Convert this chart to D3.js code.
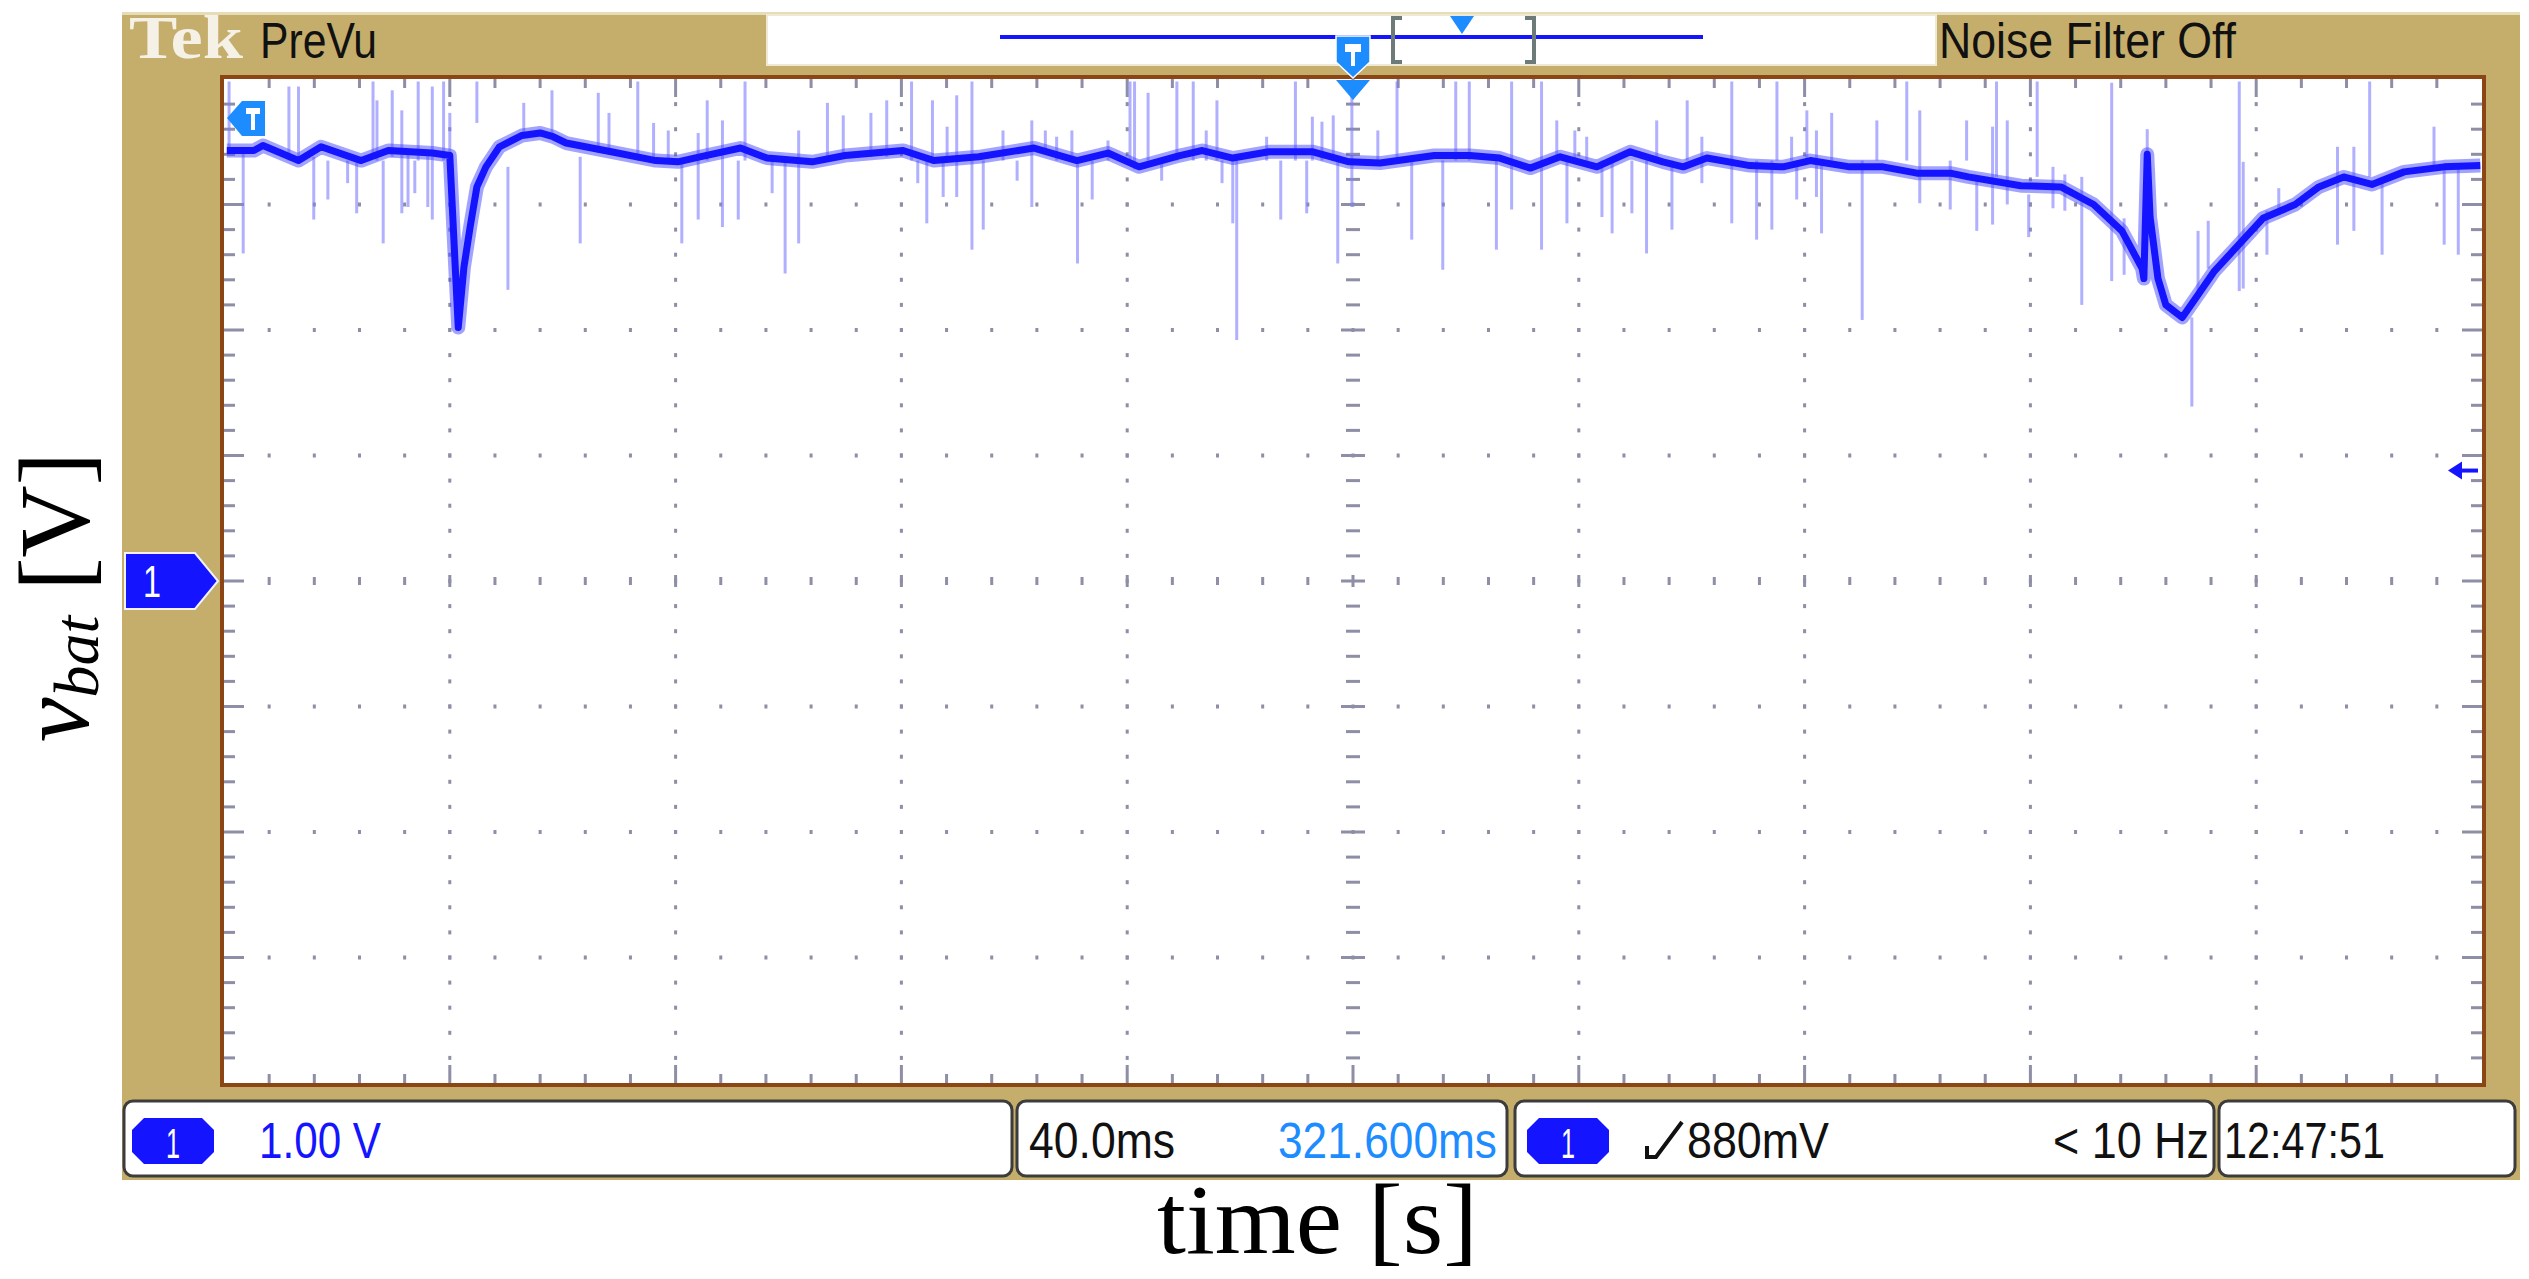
<!DOCTYPE html>
<html><head><meta charset="utf-8">
<script src="https://cdn.jsdelivr.net/npm/d3@7"></script>
<style>html,body{margin:0;padding:0;background:#fff;}svg{display:block;}</style>
</head><body>
<svg id="c" width="2529" height="1279"></svg>
<script>
// ---------------- data ----------------
// time in ms (0..400 across the screen, 40 ms/div), voltage in V (1 V/div, ground at centre)
const traceT = [0.5,5.3,6.9,13.2,17.2,24.3,29.1,36.9,40.0,40.9,41.5,42.5,43.6,44.8,46.4,48.8,52.8,56.0,58.3,60.6,68.6,76.5,80.4,84.3,91.5,96.2,104.2,110.0,120.3,125.8,133.7,143.5,151.1,156.6,162.1,169.3,173.3,178.7,185.1,192.9,199.3,204.8,214.4,220.7,226.0,231.4,236.7,243.2,249.1,254.9,258.5,262.7,270.3,276.2,281.0,288.0,293.9,299.9,305.8,309.0,318.3,325.4,331.2,336.2,339.8,340.1,340.7,341.2,342.6,344.0,346.9,349.7,352.6,356.3,361.2,366.9,371.1,375.5,380.5,386.2,393.3,399.7];
const traceV = [3.43,3.43,3.47,3.35,3.46,3.35,3.43,3.41,3.39,2.56,2.02,2.50,2.82,3.14,3.30,3.46,3.55,3.57,3.54,3.49,3.42,3.35,3.34,3.38,3.45,3.37,3.34,3.39,3.43,3.35,3.38,3.45,3.35,3.41,3.30,3.39,3.43,3.37,3.42,3.42,3.34,3.33,3.39,3.39,3.37,3.29,3.38,3.30,3.42,3.34,3.30,3.37,3.31,3.30,3.35,3.30,3.30,3.25,3.25,3.22,3.15,3.14,3.00,2.79,2.49,2.41,3.40,2.90,2.41,2.20,2.10,2.28,2.47,2.65,2.89,3.00,3.14,3.22,3.16,3.26,3.30,3.31];

// glitch spikes: time, low and high voltage
const spikeT  = [0.9,3.4,11.5,13.2,15.9,18.4,21.9,23.5,26.4,27.1,28.2,29.8,31.5,32.6,33.8,34.4,36.1,36.9,38.9,40.0,44.8,50.3,53.1,58.1,63.1,66.3,68.2,73.3,76.1,78.7,81.1,84.0,85.6,88.3,91.1,92.3,97.1,99.4,101.8,106.9,109.7,114.6,117.4,121.8,122.9,124.5,125.5,127.4,128.1,129.8,132.5,134.5,138.0,140.5,143.1,145.5,147.5,150.2,151.2,153.8,156.6,160.5,161.3,163.7,166.1,168.8,171.7,174.0,175.9,176.8,178.7,179.4,184.7,187.2,189.8,191.8,192.8,194.5,196.5,197.3,199.8,204.4,207.8,210.4,215.9,218.2,220.6,225.4,228.1,233.4,236.1,237.9,239.3,241.4,244.1,245.9,249.4,252.0,253.8,256.5,259.2,261.8,267.1,271.5,274.2,275.1,277.7,278.6,280.4,282.1,283.0,284.8,290.2,292.8,298.1,300.4,305.8,308.7,310.5,313.3,314.0,315.9,319.7,321.2,324.0,326.1,329.1,334.4,336.6,340.7,348.6,349.7,351.5,357.0,357.7,361.9,364.0,374.4,377.3,380.1,382.3,391.5,393.3,395.8];
const spikeLo = [3.41,2.61,3.35,3.38,2.88,3.04,3.17,2.93,3.41,3.35,2.69,3.38,2.93,2.98,3.09,3.35,2.98,2.88,3.35,3.09,3.65,2.32,3.54,3.54,2.69,3.41,3.41,3.35,3.35,3.35,2.69,2.88,3.35,2.82,2.88,3.35,3.09,2.45,2.69,3.38,3.38,3.38,3.38,3.35,3.17,2.85,3.35,3.06,3.35,3.06,2.64,2.80,3.35,3.19,2.98,3.41,3.35,3.35,2.53,3.04,3.35,3.35,3.28,3.35,3.19,3.35,3.35,3.35,3.35,3.17,2.85,1.92,3.35,2.88,3.35,2.93,3.35,3.35,3.35,2.53,2.98,3.35,3.35,2.72,2.48,3.35,3.35,2.64,2.96,2.64,3.35,2.85,3.35,3.35,2.90,2.77,2.93,2.61,3.35,2.80,3.35,3.17,2.85,2.72,2.80,3.35,3.35,3.04,3.35,3.06,2.77,3.35,2.08,3.35,3.35,3.01,2.96,3.35,2.79,2.84,3.22,3.00,2.74,3.22,2.97,2.95,2.20,2.39,2.44,2.90,1.39,2.28,2.49,2.31,2.33,2.60,2.92,2.68,2.79,3.22,2.60,3.27,2.68,2.60];
const spikeHi = [3.98,3.41,3.94,3.94,3.38,3.35,3.35,3.35,3.98,3.83,3.35,3.91,3.75,3.41,3.35,3.98,3.41,3.94,3.98,3.73,3.98,3.30,3.81,3.91,3.38,3.89,3.73,3.98,3.65,3.59,3.35,3.57,3.83,3.67,3.35,3.98,3.35,3.35,3.59,3.81,3.71,3.73,3.83,3.98,3.35,3.35,3.83,3.35,3.62,3.87,3.98,3.35,3.59,3.35,3.67,3.59,3.54,3.59,3.35,3.35,3.51,3.98,3.98,3.89,3.35,3.98,3.98,3.59,3.83,3.35,3.35,3.35,3.54,3.35,3.98,3.35,3.70,3.66,3.71,3.35,3.98,3.59,3.98,3.35,3.35,3.98,3.98,3.35,3.98,3.98,3.67,3.35,3.59,3.54,3.35,3.35,3.35,3.35,3.67,3.35,3.83,3.54,3.98,3.35,3.35,3.98,3.54,3.35,3.75,3.59,3.35,3.73,3.35,3.67,3.98,3.75,3.35,3.67,3.22,3.62,3.98,3.67,3.08,3.98,3.30,3.24,3.22,3.97,2.89,3.60,2.10,2.79,2.87,3.98,3.34,2.95,3.13,3.46,3.46,3.98,3.22,3.62,3.30,3.30];

// scope settings
const timeDomain = [0, 400];      // ms on screen
const voltDomain = [-4, 4];       // V on screen
const timePerDiv = 40, voltPerDiv = 1;
const triggerTime = 200, triggerLevel = 0.88, channelOffset = 0;

// readouts
const headerLeft = "PreVu";
const headerRight = "Noise Filter Off";
const chScale = "1.00 V";
const timeScale = "40.0ms";
const timePos = "321.600ms";
const trigLevelText = "880mV";
const trigFreq = "< 10 Hz";
const clockText = "12:47:51";
const xLabel = "time [s]";

// ---------------- drawing ----------------
const svg = d3.select("#c");
const TAN = "#c5ae6b", BROWN = "#8c4616", BLUE = "#1414ff", LBLUE = "#1c8cff";
const x = d3.scaleLinear().domain(timeDomain).range([224, 2482]);
const y = d3.scaleLinear().domain(voltDomain).range([1083, 79]);

// frame
svg.append("rect").attr("x",122).attr("y",12).attr("width",2398).attr("height",1168).attr("fill",TAN);
svg.append("rect").attr("x",122).attr("y",12).attr("width",2398).attr("height",3).attr("fill","#e6dcb8");
// header white box
svg.append("rect").attr("x",767).attr("y",15).attr("width",1169).attr("height",50).attr("fill","#fff")
  .attr("stroke","#efe8d2").attr("stroke-width",2);
svg.append("line").attr("x1",1000).attr("x2",1703).attr("y1",37).attr("y2",37).attr("stroke",BLUE).attr("stroke-width",4);
// bracket window
const br = svg.append("g").attr("stroke","#6c7a7a").attr("stroke-width",4).attr("fill","none");
br.append("path").attr("d","M1402,18 H1393 V62 H1402");
br.append("path").attr("d","M1525,18 H1534 V62 H1525");
svg.append("path").attr("d","M1450,16 L1474,16 L1462,34 Z").attr("fill",LBLUE);

// texts in header
svg.append("text").attr("x",129).attr("y",58).attr("font-family","Liberation Serif").attr("font-weight","bold")
  .attr("font-size",62).attr("fill","#f5f1e6").attr("textLength",114).attr("lengthAdjust","spacingAndGlyphs").text("Tek");
svg.append("text").attr("x",260).attr("y",58).attr("font-family","Liberation Sans").attr("font-size",50)
  .attr("fill","#111").attr("textLength",117).attr("lengthAdjust","spacingAndGlyphs").text(headerLeft);
svg.append("text").attr("x",1939).attr("y",58).attr("font-family","Liberation Sans").attr("font-size",50)
  .attr("fill","#111").attr("textLength",297).attr("lengthAdjust","spacingAndGlyphs").text(headerRight);

// plot area
svg.append("rect").attr("x",222).attr("y",77).attr("width",2262).attr("height",1008)
  .attr("fill","#fff").attr("stroke",BROWN).attr("stroke-width",4);

const grid = svg.append("g").attr("fill","#8e8ea6");
const minorT = d3.range(timeDomain[0], timeDomain[1] + 1e-6, timePerDiv / 5);
const majorT = d3.range(timeDomain[0], timeDomain[1] + 1e-6, timePerDiv);
const minorV = d3.range(voltDomain[0], voltDomain[1] + 1e-6, voltPerDiv / 5).map(v => +v.toFixed(2));
const majorV = d3.range(voltDomain[0], voltDomain[1] + 1e-6, voltPerDiv);
const isMajorT = t => Math.abs(t / timePerDiv - Math.round(t / timePerDiv)) < 1e-6;
const isMajorV = v => Math.abs(v / voltPerDiv - Math.round(v / voltPerDiv)) < 1e-6;

// dots on horizontal grid lines
majorV.filter(v => v > voltDomain[0] && v < voltDomain[1] && v !== channelOffset).forEach(v => {
  minorT.filter(t => t > timeDomain[0] && t < timeDomain[1]).forEach(t => {
    grid.append("rect").attr("x", x(t) - 1.5).attr("y", y(v) - 2).attr("width", 3).attr("height", 4);
  });
});
// dots on vertical grid lines
majorT.filter(t => t > timeDomain[0] && t < timeDomain[1] && t !== triggerTime).forEach(t => {
  minorV.filter(v => v > voltDomain[0] && v < voltDomain[1]).forEach(v => {
    grid.append("rect").attr("x", x(t) - 1.5).attr("y", y(v) - 2).attr("width", 3).attr("height", 4);
  });
});
// centre cross ticks
minorT.filter(t => t > timeDomain[0] && t < timeDomain[1]).forEach(t => {
  const L = isMajorT(t) ? 12 : 8;
  grid.append("rect").attr("x", x(t) - 1.5).attr("y", y(channelOffset) - L / 2).attr("width", 3).attr("height", L);
});
minorV.filter(v => v > voltDomain[0] && v < voltDomain[1]).forEach(v => {
  const L = isMajorV(v) ? 24 : 14;
  grid.append("rect").attr("x", x(triggerTime) - L / 2).attr("y", y(v) - 1.5).attr("width", L).attr("height", 3);
});
// border ticks
minorT.filter(t => t > timeDomain[0] && t < timeDomain[1]).forEach(t => {
  const L = isMajorT(t) ? 18 : 9;
  grid.append("rect").attr("x", x(t) - 1.5).attr("y", y(voltDomain[1])).attr("width", 3).attr("height", L);
  grid.append("rect").attr("x", x(t) - 1.5).attr("y", y(voltDomain[0]) - L).attr("width", 3).attr("height", L);
});
minorV.filter(v => v > voltDomain[0] && v < voltDomain[1]).forEach(v => {
  const L = isMajorV(v) ? 20 : 11;
  grid.append("rect").attr("x", x(timeDomain[0])).attr("y", y(v) - 1.5).attr("width", L).attr("height", 3);
  grid.append("rect").attr("x", x(timeDomain[1]) - L).attr("y", y(v) - 1.5).attr("width", L).attr("height", 3);
});

// clip
svg.append("clipPath").attr("id","pc").append("rect").attr("x",224).attr("y",79).attr("width",2258).attr("height",1004);
const plot = svg.append("g").attr("clip-path","url(#pc)");

// spikes
plot.append("g").selectAll("line").data(d3.range(spikeT.length)).join("line")
  .attr("x1", i => x(spikeT[i])).attr("x2", i => x(spikeT[i]))
  .attr("y1", i => y(spikeLo[i])).attr("y2", i => y(spikeHi[i]))
  .attr("stroke","#8080ff").attr("stroke-opacity",0.62).attr("stroke-width",3);

// trace
const line = d3.line().x(i => x(traceT[i])).y(i => y(traceV[i]));
const idx = d3.range(traceT.length);
plot.append("path").attr("d", line(idx)).attr("fill","none").attr("stroke","#4646ff").attr("stroke-opacity",0.5)
  .attr("stroke-width",14).attr("stroke-linejoin","round");
plot.append("path").attr("d", line(idx)).attr("fill","none").attr("stroke",BLUE)
  .attr("stroke-width",7).attr("stroke-linejoin","round");

// trigger position marker (top)
const tx = x(triggerTime);
svg.append("path").attr("d",`M${tx-17},36 H${tx+17} V62 L${tx},78 L${tx-17},62 Z`).attr("fill",LBLUE).attr("stroke","#fff").attr("stroke-width",1.5);
svg.append("path").attr("d",`M${tx-8},44 H${tx+8} V52 H${tx+2} V66 H${tx-2} V52 H${tx-8} Z`).attr("fill","#fff");
svg.append("path").attr("d",`M${tx-17},80 H${tx+17} L${tx},100 Z`).attr("fill",LBLUE);
// trigger marker at left top inside plot
svg.append("path").attr("d","M227,118 L242,101 H265 V136 H242 Z").attr("fill",LBLUE);
svg.append("path").attr("d","M246,108 H260 V114 H255 V130 H251 V114 H246 Z").attr("fill","#fff");

// trigger level arrow (right)
const ty = y(triggerLevel);
svg.append("path").attr("d",`M2448,${ty} L2462,${ty-9} L2462,${ty+9} Z`).attr("fill",BLUE);
svg.append("line").attr("x1",2455).attr("x2",2478).attr("y1",ty).attr("y2",ty).attr("stroke",BLUE).attr("stroke-width",4);

// channel 1 ground marker
const gy = y(channelOffset);
svg.append("path").attr("d",`M125,${gy-28} H195 L218,${gy} L195,${gy+28} H125 Z`).attr("fill",BLUE).attr("stroke","#f2f2ff").attr("stroke-width",2);
svg.append("text").attr("x",152).attr("y",gy+16).attr("text-anchor","middle").attr("font-family","Liberation Sans")
  .attr("font-size",44).attr("fill","#fff").attr("textLength",18).attr("lengthAdjust","spacingAndGlyphs").text("1");

// status bar boxes
const boxes = [[124,1012],[1017,1507],[1515,2214],[2219,2515]];
boxes.forEach(b => {
  svg.append("rect").attr("x",b[0]).attr("y",1101).attr("width",b[1]-b[0]).attr("height",75).attr("rx",9)
    .attr("fill","#fff").attr("stroke","#3c3c3c").attr("stroke-width",3);
});
function badge(x0) {
  const w = 82, h = 46, c = 12, y0 = 1118;
  svg.append("path").attr("d",`M${x0+c},${y0} H${x0+w-c} L${x0+w},${y0+c} V${y0+h-c} L${x0+w-c},${y0+h} H${x0+c} L${x0},${y0+h-c} V${y0+c} Z`).attr("fill",BLUE);
  svg.append("text").attr("x",x0+w/2).attr("y",y0+h-6).attr("text-anchor","middle").attr("font-family","Liberation Sans")
    .attr("font-size",42).attr("fill","#fff").attr("textLength",14).attr("lengthAdjust","spacingAndGlyphs").text("1");
}
badge(132); badge(1527);
function stat(txt, x0, w, col) {
  svg.append("text").attr("x",x0).attr("y",1158).attr("font-family","Liberation Sans").attr("font-size",50)
    .attr("fill",col).attr("textLength",w).attr("lengthAdjust","spacingAndGlyphs").text(txt);
}
stat(chScale, 259, 122, BLUE);
stat(timeScale, 1029, 146, "#111");
stat(timePos, 1278, 219, LBLUE);
stat(trigLevelText, 1687, 142, "#111");
stat(trigFreq, 2053, 156, "#111");
stat(clockText, 2224, 161, "#111");
svg.append("path").attr("d","M1647,1146 V1157 H1656 L1682,1122").attr("fill","none").attr("stroke","#111").attr("stroke-width",4);

// axis labels
svg.append("text").attr("x",1157).attr("y",1253).attr("font-family","Liberation Serif").attr("font-size",100)
  .attr("fill","#000").attr("textLength",321).attr("lengthAdjust","spacingAndGlyphs").text(xLabel);
const yl = svg.append("text").attr("transform","translate(88,742) rotate(-90)").attr("font-family","Liberation Serif")
  .attr("font-size",100).attr("fill","#000");
yl.append("tspan").attr("font-style","italic").text("v");
yl.append("tspan").attr("font-style","italic").attr("font-size",64).attr("dy",10).text("bat");
yl.append("tspan").attr("dy",-10).text(" [V]");
</script>
</body></html>
